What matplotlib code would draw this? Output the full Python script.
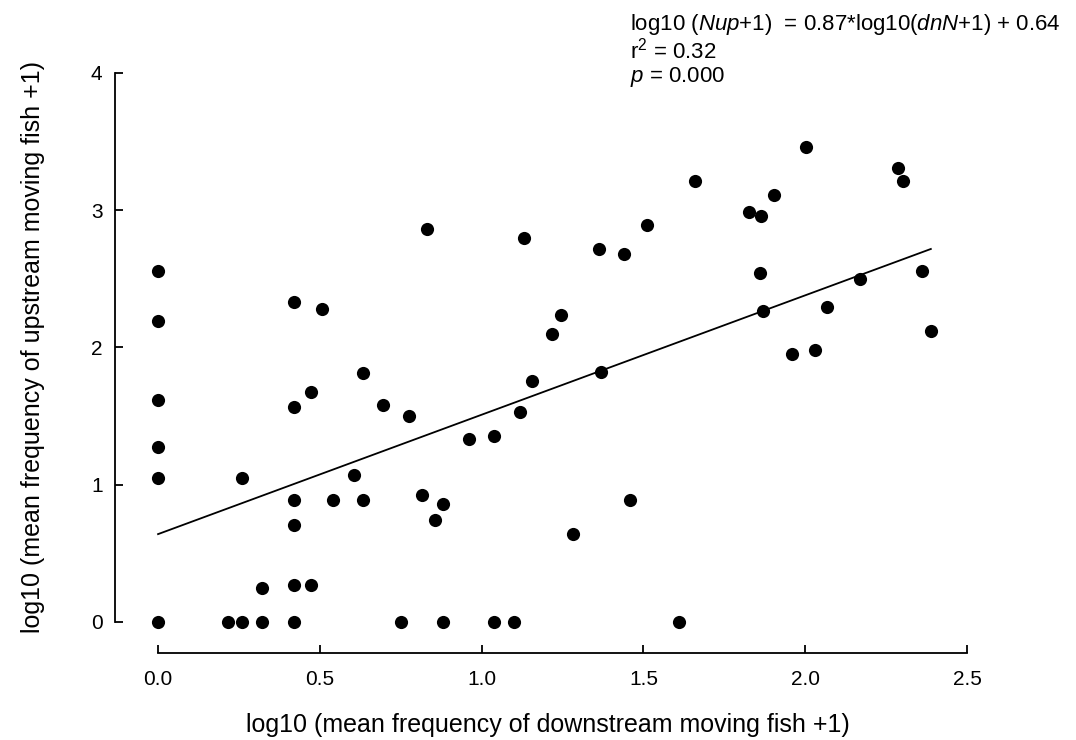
import numpy as np
import matplotlib
matplotlib.use('Agg')
import matplotlib.pyplot as plt

plt.rcParams['font.family'] = ['Liberation Sans', 'DejaVu Sans']
plt.rcParams['mathtext.fontset'] = 'custom'
plt.rcParams['mathtext.rm'] = 'Liberation Sans'
plt.rcParams['mathtext.it'] = 'Liberation Sans:italic'

# log10(mean downstream + 1) vs log10(mean upstream + 1)
dn_log = [0.0, 0.0, 0.0, 0.0, 0.0, 0.0,
          0.26, 0.217, 0.26, 0.321, 0.321,
          0.421, 0.421, 0.421, 0.421, 0.421, 0.421, 0.473, 0.473,
          0.506, 0.54, 0.604, 0.632, 0.632, 0.696, 0.75, 0.775,
          0.815, 0.832, 0.856, 0.882, 0.882, 0.962, 1.038, 1.038,
          1.10, 1.119, 1.132, 1.154, 1.217, 1.244, 1.283, 1.363,
          1.368, 1.439, 1.457, 1.511, 1.61, 1.66, 1.827, 1.859,
          1.862, 1.868, 1.903, 1.959, 2.002, 2.03, 2.068, 2.168,
          2.286, 2.301, 2.362, 2.388]
up_log = [2.557, 2.19, 1.62, 1.275, 1.049, 0.0,
          1.049, 0.0, 0.0, 0.246, 0.0,
          2.33, 1.564, 0.89, 0.703, 0.27, 0.0, 1.677, 0.27,
          2.28, 0.89, 1.068, 1.815, 0.89, 1.584, 0.0, 1.50,
          0.927, 2.86, 0.745, 0.859, 0.0, 1.334, 1.358, 0.0,
          0.0, 1.53, 2.80, 1.754, 2.095, 2.24, 0.642, 2.72,
          1.82, 2.684, 0.89, 2.89, 0.0, 3.21, 2.985, 2.545,
          2.96, 2.263, 3.11, 1.954, 3.457, 1.983, 2.297, 2.50,
          3.31, 3.21, 2.557, 2.119]

slope = 0.87
intercept = 0.64
r2 = 0.32
p_val = 0.000

fig = plt.figure(figsize=(10.76, 7.40), dpi=100)
ax = fig.add_axes([0.1069, 0.1176, 0.8039, 0.7838])

ax.scatter(dn_log, up_log, s=90, color='black', zorder=3, linewidths=0)

xfit = np.array([min(dn_log), max(dn_log)])
ax.plot(xfit, intercept + slope * xfit, color='black', linewidth=1.3)

ax.set_xlim(-0.133, 2.54)
ax.set_ylim(-0.226, 4.0)
ax.spines['top'].set_visible(False)
ax.spines['right'].set_visible(False)
ax.spines['left'].set_bounds(0, 4)
ax.spines['bottom'].set_bounds(0, 2.5)
ax.spines['left'].set_linewidth(1.3)
ax.spines['bottom'].set_linewidth(1.3)

ax.set_xticks([0.0, 0.5, 1.0, 1.5, 2.0, 2.5])
ax.set_xticklabels(['0.0', '0.5', '1.0', '1.5', '2.0', '2.5'])
ax.set_yticks([0, 1, 2, 3, 4])
ax.tick_params(direction='in', length=6, width=1.3, labelsize=15)
ax.tick_params(axis='x', pad=12)
ax.tick_params(axis='y', pad=9)

ax.set_xlabel('log10 (mean frequency of downstream moving fish +1)', fontsize=18)
ax.set_ylabel('log10 (mean frequency of upstream moving fish +1)', fontsize=18)
ax.xaxis.set_label_coords(0.5, -0.103)
ax.yaxis.set_label_coords(-0.081, 0.528)

eq = ('log10 ($\\mathit{Nup}$+$\\mathit{1}$)  = %.2f*log10($\\mathit{dnN}$+$\\mathit{1}$) + %.2f\n'
      'r$^2$ = %.2f\n$\\mathit{p}$ = %.3f' % (slope, intercept, r2, p_val))
fig.text(630 / 1076, 1 - 12 / 740, eq, fontsize=16, va='top', ha='left', linespacing=1.05)

fig.savefig('out.png', dpi=100)
